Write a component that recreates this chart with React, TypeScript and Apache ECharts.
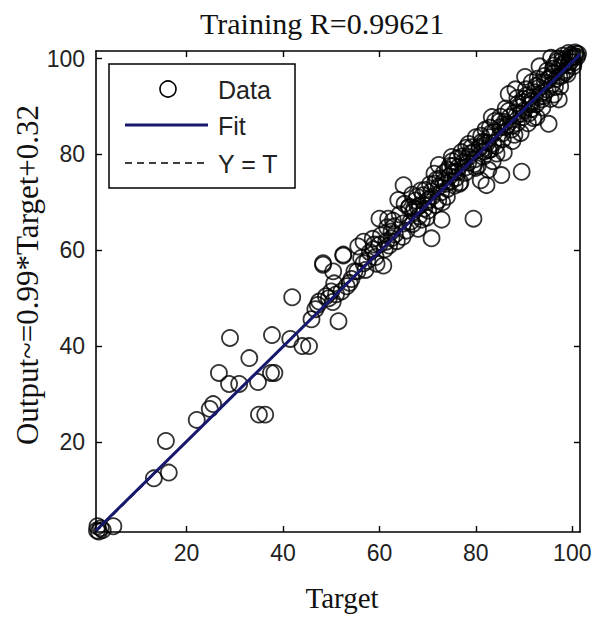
import React, { useEffect, useRef } from "react";
import * as echarts from "echarts";

const titleText = "Training R=0.99621";
const xAxisTitle = "Target";
const yAxisTitle = "Output~=0.99*Target+0.32";
const tickValues = [20, 40, 60, 80, 100];
const axisMin = 1.2;
const axisMax = 101.6;
const fitSlope = 0.99;
const fitIntercept = 0.32;
const legendLabels = ["Data", "Fit", "Y = T"];

const targets = [
  1.4, 1.8, 2.2, 1.5, 2.6, 4.8, 13.2, 16.3, 15.7,
  22.1, 24.8, 25.5, 26.7, 28.8, 29, 30.9, 33, 34.8, 35, 36.3, 37.5, 38.2, 37.7, 41.9, 41.5, 44, 45.4, 45.9, 46.7, 47.5,
  48.3, 48.9, 50, 50.6, 51.5, 52.1, 53.2, 52.5, 54.2, 55.4, 56.7, 55.6, 58.7, 60, 60.8, 61.4, 62.5, 63.1,
  47.2, 49.5, 50.3, 51, 53.8, 57.5, 58.9, 59.2, 60, 61.8, 62.5, 63.9, 65, 65.2, 64.8, 56.7, 50.4, 54.8, 48.3, 52.5,
  66.2, 67, 68.3, 69.3, 70.2, 70.8, 72.3, 73.3, 74.5, 75.6, 76.4, 77.4, 78.5, 79.5, 80.8, 81.8, 82.9, 83.9, 85, 86,
  87, 88.1, 89.1, 90.1, 91.2, 92.2, 93.2, 94.3, 95.3, 96.3, 97.4, 98.4, 99.5, 100.5,
  71.4, 68, 67.2, 70.8, 72.9, 72.3, 75, 78.5, 79.7, 82.2, 79.5, 81.2, 85.3, 89.5, 86.8, 95.1, 83.3, 91.6, 93.7, 97.2,
  96.2, 99.9, 91.6, 77.9, 75.6, 76.8, 74, 73, 69, 66.5, 67.8, 69.8, 71.6, 74.6, 77, 80, 81.5, 83, 84.2, 85.6,
  87.4, 88.5, 89.8, 91, 92.5, 94, 95.8, 97.8, 98.8, 84, 86.2, 88.6, 90.4, 92.8, 94.8, 96.8, 82, 80, 78, 76.2,
  74.2, 72.6, 70.5, 68.6, 66.8, 83.5, 85.8, 87.6, 89.3, 90.8, 92.6, 93.8, 96.2, 97.5, 99, 100.2, 100.8, 99.2, 98, 82.6,
  88.2, 90.2, 93.2, 95.6, 81,
  56.2, 57.1, 58.0, 59.4, 60.3, 61.1, 62.0, 62.8, 63.6, 64.2, 64.9, 65.6, 66.1, 66.9, 67.5, 68.2, 68.8, 69.5, 70.1, 70.9,
  71.5, 72.2, 72.8, 73.4, 74.1, 74.8, 75.3, 75.9, 76.6, 77.2, 77.8, 78.4, 79.1, 79.8, 80.4, 81.1, 81.7, 82.3, 82.9, 83.6,
  84.3, 84.9, 85.5, 86.2, 86.8, 87.5, 88.0, 88.7, 89.4, 90.0, 90.6, 91.3, 91.9, 92.5, 93.1, 93.6, 94.2, 94.9, 95.5, 96.0,
  96.7, 97.3, 97.9, 98.5, 99.1, 99.7, 100.3, 101.0, 100.6, 101.2,
  58.6, 61.6, 63.2, 67.9, 69.9, 71.9, 73.8, 75.1, 76.1, 78.8, 80.7, 82.6, 83.2, 85.1, 86.6, 88.4, 89.9, 91.6, 93.4, 95.1,
  96.4, 98.2, 97.0, 99.6,
];

const outputs = [
  1.5, 1.3, 2.0, 2.4, 1.6, 2.4, 12.4, 13.6, 20.2,
  24.6, 26.9, 27.9, 34.4, 32.1, 41.7, 32.1, 37.5, 32.5, 25.7, 25.7, 34.4, 34.4, 42.3, 50.2, 41.5, 40, 40, 45.6, 47.7, 49.3,
  57, 50.4, 51.4, 53.1, 45.2, 51.4, 52.5, 58.9, 54, 55.6, 57.3, 60.8, 60.2, 61.2, 56.8, 61.8, 63.9, 65,
  48.6, 50.0, 49.2, 50.8, 53.2, 57.8, 61.2, 58.6, 66.6, 66.6, 62.5, 70.5, 73.6, 69.7, 62.8, 61.8, 55.6, 55.6, 57.3, 59.1,
  69.1, 68, 69.3, 68.7, 70.6, 72.3, 73.3, 74.3, 75.4, 76.4, 77.4, 78.4, 79.5, 80.5, 81.6, 82.6, 83.6, 84.7, 85.7, 86.8,
  87.8, 88.8, 89.9, 90.9, 91.9, 93, 94, 95, 96.1, 97.1, 98.2, 99.2, 100, 100.5,
  76, 64.5, 68.7, 62.5, 66.4, 77.8, 79.5, 82.2, 78, 73.6, 66.6, 82.6, 75.7, 76.4, 92.6, 86.4, 87.8, 95.1, 91.5, 91.5,
  98.6, 100.3, 89.5, 77.3, 73.5, 74.2, 71.2, 70, 71.5, 66, 71.2, 66.8, 69.5, 77.6, 80.5, 77.2, 79.5, 81, 81.8, 83.2,
  85.2, 86.5, 87.8, 88.6, 90.5, 92.2, 94.6, 96.4, 97.6, 87, 89.6, 91.8, 93.6, 95.8, 97.5, 99.4, 85.2, 83.6, 81.4, 79.2,
  76.8, 75, 73.8, 72.5, 71.6, 78.6, 80.4, 82.8, 84.5, 86.5, 87.8, 89.8, 92.5, 94.2, 96.8, 98.4, 101, 101.2, 100.6, 76.8,
  93.6, 96.2, 98.4, 100.2, 74.6,
  58.4, 55.9, 59.6, 57.2, 63.1, 60.2, 61.0, 66.2, 61.9, 67.5, 65.6, 64.1, 68.9, 65.5, 70.4, 67.1, 66.4, 72.6, 68.3, 71.2,
  73.9, 70.4, 72.1, 76.2, 72.8, 74.4, 77.6, 75.1, 73.9, 79.6, 76.2, 78.3, 81.5, 79.0, 77.6, 83.9, 80.6, 82.4, 85.6, 82.3,
  80.2, 86.9, 84.4, 85.7, 89.1, 86.0, 84.1, 90.6, 88.5, 89.2, 92.4, 90.4, 87.6, 94.3, 92.0, 92.8, 96.4, 93.5, 91.6, 97.9,
  95.8, 96.3, 99.6, 97.1, 98.6, 100.8, 99.2, 100.4, 101.3, 101.0,
  62.4, 64.8, 63.3, 69.1, 70.1, 74.8, 73.9, 78.6, 76.3, 80.2, 81.2, 80.9, 84.5, 87.9, 86.2, 88.1, 91.6, 91.2, 94.9, 95.7,
  94.1, 98.8, 100.0, 99.4,
];

const serif = "'Liberation Serif', 'Times New Roman', serif";
const sans = "'Liberation Sans', Arial, sans-serif";

export default function App() {
  const ref = useRef<HTMLDivElement>(null);

  useEffect(() => {
    if (!ref.current) return;
    const chart = echarts.init(ref.current, null, { renderer: "svg" });

    const scatterData = targets.map((t, i) => [t, outputs[i]]);
    const fitData = [
      [axisMin, fitSlope * axisMin + fitIntercept],
      [axisMax, fitSlope * axisMax + fitIntercept],
    ];
    const identityData = [
      [axisMin, axisMin],
      [axisMax, axisMax],
    ];

    const baseAxis = {
      type: "value",
      min: axisMin,
      max: axisMax,
      splitLine: { show: false },
      axisLine: { show: true, lineStyle: { color: "#000", width: 1.6 } },
      axisTick: {
        show: true,
        inside: true,
        length: 6,
        customValues: tickValues,
        lineStyle: { color: "#000", width: 1.4 },
      },
    };

    chart.setOption({
      animation: false,
      backgroundColor: "#fff",
      title: {
        text: titleText,
        left: 195,
        top: 3,
        textStyle: { fontFamily: serif, fontSize: 30, fontWeight: "normal", color: "#111" },
      },
      grid: { left: 96, top: 51, right: 31, bottom: 91, containLabel: false },
      xAxis: [
        {
          ...baseAxis,
          position: "bottom",
          axisLabel: {
            show: true,
            customValues: tickValues,
            margin: 9,
            fontFamily: sans,
            fontSize: 23,
            color: "#222",
          },
        },
        { ...baseAxis, position: "top", axisLabel: { show: false } },
      ],
      yAxis: [
        {
          ...baseAxis,
          position: "left",
          axisLabel: {
            show: true,
            customValues: tickValues,
            margin: 11,
            fontFamily: sans,
            fontSize: 23,
            color: "#222",
          },
        },
        { ...baseAxis, position: "right", axisLabel: { show: false } },
      ],
      series: [
        {
          name: legendLabels[0],
          type: "scatter",
          xAxisIndex: 0,
          yAxisIndex: 0,
          data: scatterData,
          symbol: "circle",
          symbolSize: 16,
          itemStyle: { color: "rgba(0,0,0,0)", borderColor: "#000", borderWidth: 1.8 },
          z: 2,
        },
        {
          name: legendLabels[2],
          type: "line",
          xAxisIndex: 0,
          yAxisIndex: 0,
          data: identityData,
          symbol: "none",
          lineStyle: { color: "#000", width: 1.2, type: [7, 5] },
          z: 3,
        },
        {
          name: legendLabels[1],
          type: "line",
          xAxisIndex: 0,
          yAxisIndex: 0,
          data: fitData,
          symbol: "none",
          lineStyle: { color: "#17176e", width: 3 },
          z: 4,
        },
      ],
      graphic: [
        {
          type: "text",
          x: 342,
          y: 598,
          style: {
            text: xAxisTitle,
            font: `29px ${serif}`,
            fill: "#111",
            align: "center",
            verticalAlign: "middle",
          },
        },
        {
          type: "text",
          x: 27,
          y: 275,
          rotation: Math.PI / 2,
          style: {
            text: yAxisTitle,
            font: `31px ${serif}`,
            fill: "#111",
            align: "center",
            verticalAlign: "middle",
          },
        },
        {
          type: "group",
          z: 100,
          children: [
            {
              type: "rect",
              shape: { x: 109, y: 64, width: 186, height: 124 },
              style: { fill: "#fff", stroke: "#000", lineWidth: 1.5 },
            },
            {
              type: "circle",
              shape: { cx: 168, cy: 89, r: 8 },
              style: { fill: "none", stroke: "#000", lineWidth: 1.6 },
            },
            {
              type: "line",
              shape: { x1: 125, y1: 125, x2: 208, y2: 125 },
              style: { stroke: "#17176e", lineWidth: 3.2 },
            },
            {
              type: "line",
              shape: { x1: 125, y1: 163, x2: 208, y2: 163 },
              style: { stroke: "#000", lineWidth: 1.3, lineDash: [7, 5] },
            },
            {
              type: "text",
              x: 218,
              y: 90,
              style: { text: legendLabels[0], font: `25px ${sans}`, fill: "#222", verticalAlign: "middle" },
            },
            {
              type: "text",
              x: 218,
              y: 126,
              style: { text: legendLabels[1], font: `25px ${sans}`, fill: "#222", verticalAlign: "middle" },
            },
            {
              type: "text",
              x: 218,
              y: 164,
              style: { text: legendLabels[2], font: `25px ${sans}`, fill: "#222", verticalAlign: "middle" },
            },
          ],
        },
      ],
    });

    return () => chart.dispose();
  }, []);

  return <div ref={ref} style={{ width: 611, height: 623, position: "absolute", left: 0, top: 0 }} />;
}
